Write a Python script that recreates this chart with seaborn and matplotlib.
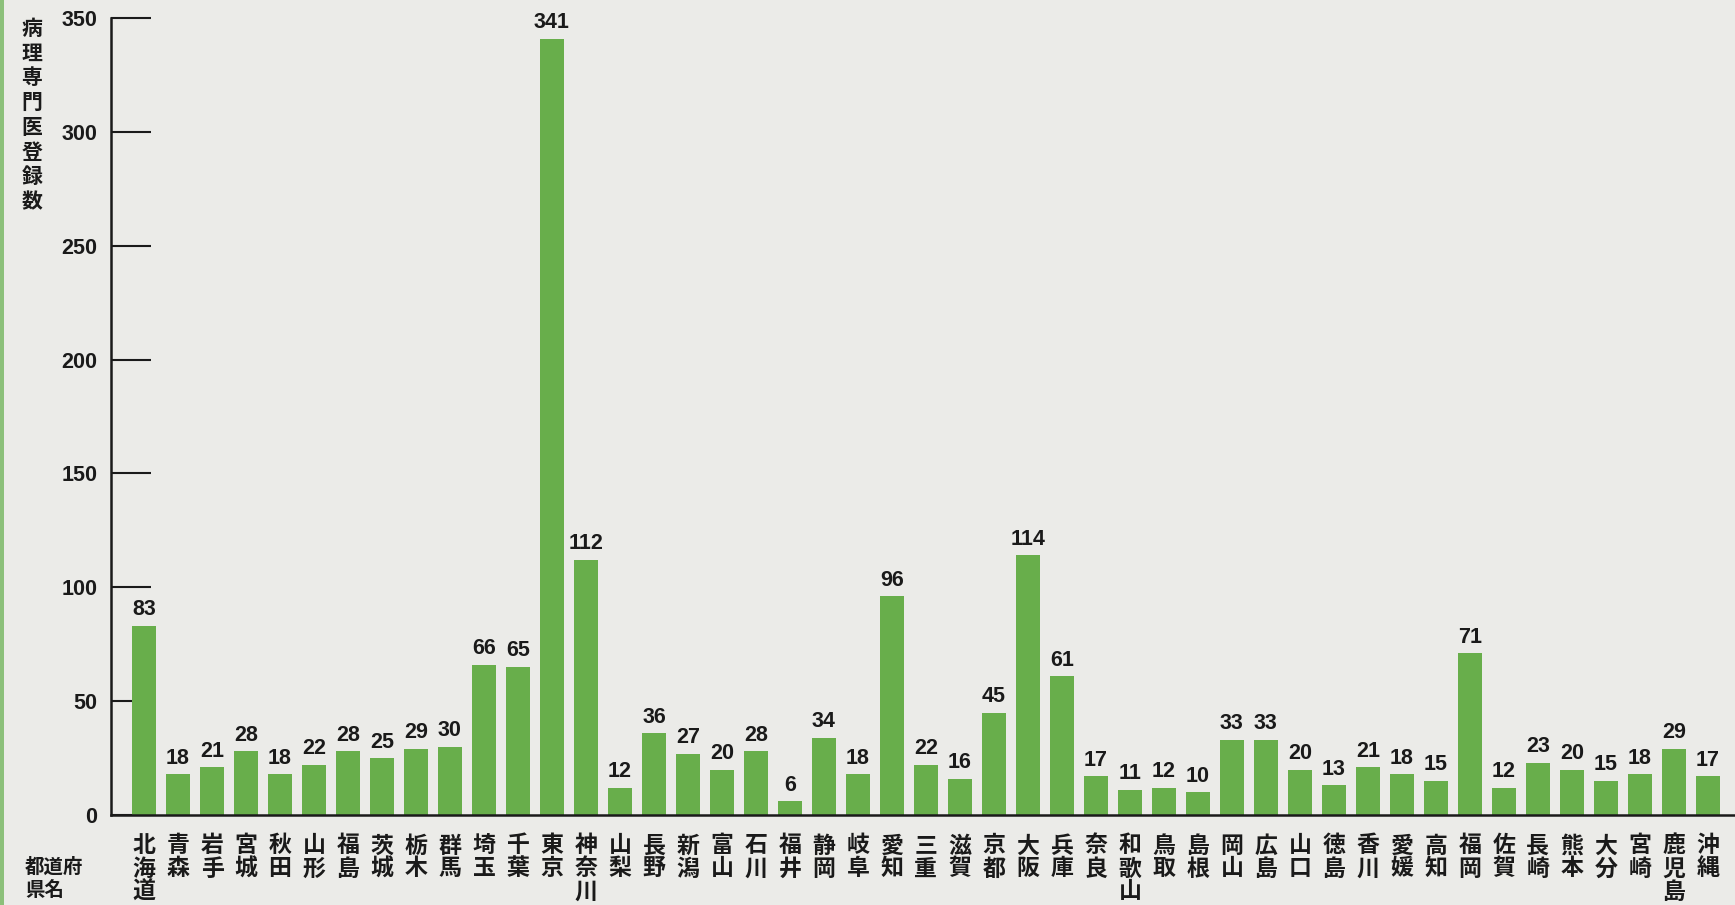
import matplotlib
matplotlib.use("Agg")
import matplotlib.pyplot as plt
import seaborn as sns
import pandas as pd

prefectures = ["北海道", "青森", "岩手", "宮城", "秋田", "山形", "福島", "茨城", "栃木", "群馬",
               "埼玉", "千葉", "東京", "神奈川", "山梨", "長野", "新潟", "富山", "石川", "福井",
               "静岡", "岐阜", "愛知", "三重", "滋賀", "京都", "大阪", "兵庫", "奈良", "和歌山",
               "鳥取", "島根", "岡山", "広島", "山口", "徳島", "香川", "愛媛", "高知", "福岡",
               "佐賀", "長崎", "熊本", "大分", "宮崎", "鹿児島", "沖縄"]
counts = [83, 18, 21, 28, 18, 22, 28, 25, 29, 30,
          66, 65, 341, 112, 12, 36, 27, 20, 28, 6,
          34, 18, 96, 22, 16, 45, 114, 61, 17, 11,
          12, 10, 33, 33, 20, 13, 21, 18, 15, 71,
          12, 23, 20, 15, 18, 29, 17]
y_ticks = [0, 50, 100, 150, 200, 250, 300, 350]
y_label = "病理専門医登録数"
x_label = "都道府\n県名"

sns.set_theme(style="white")
plt.rcParams['font.family'] = ['Noto Sans CJK JP', 'DejaVu Sans']

BG = "#ebebe8"
GREEN = "#68ae4b"
INK = "#1a1a1a"

fig = plt.figure(figsize=(17.35, 9.05), dpi=100, facecolor=BG)
fig.patches.append(plt.Rectangle((0, 0), 4 / 1735, 1, transform=fig.transFigure,
                                 facecolor="#8cc07a", edgecolor="none", zorder=0))
ax = fig.add_axes([0.064, 0.0994, 0.936, 0.8806])
ax.set_facecolor(BG)

df = pd.DataFrame({"pref": prefectures, "count": counts})
sns.barplot(data=df, x="pref", y="count", color=GREEN, saturation=1, width=0.7,
            edgecolor="none", linewidth=0, ax=ax)

for c in ax.containers:
    ax.bar_label(c, labels=[str(v) for v in counts], padding=4,
                 fontsize=15.5, family=['Liberation Sans'], fontweight='bold',
                 color=INK, clip_on=False)

ax.set_ylim(0, 350)
ax.set_xlim(-0.97, 46.8)
ax.set_yticks(y_ticks)
ax.set_yticklabels([str(t) for t in y_ticks], family=['Liberation Sans'], fontsize=15.5,
                   fontweight='bold', color=INK)
ax.tick_params(axis='y', direction='in', length=29, width=1.5, color=INK, pad=10, left=True)
ax.tick_params(axis='x', length=0, pad=14)
ax.set_xticks(range(len(prefectures)))
ax.set_xticklabels(["\n".join(p) for p in prefectures], fontsize=16.5, linespacing=1.0,
                   va='top', color=INK, fontweight='bold')
ax.set_xlabel("")
ax.set_ylabel("")

for s in ["top", "right"]:
    ax.spines[s].set_visible(False)
for s in ["left", "bottom"]:
    ax.spines[s].set_color(INK)
    ax.spines[s].set_linewidth(1.8)

fig.text(32 / 1735, 1 - 18 / 905, "\n".join(y_label), ha='center', va='top',
         fontsize=15, linespacing=1.22, color=INK, fontweight='bold')
fig.text(25 / 1735, 1 - 858 / 905, x_label, ha='left', va='top',
         fontsize=14, linespacing=1.25, color=INK, fontweight='bold')

fig.savefig("out.png", dpi=100, facecolor=BG)
